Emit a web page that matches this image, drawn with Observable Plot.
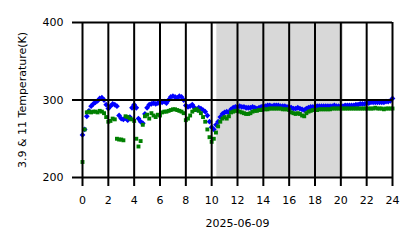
<!DOCTYPE html>
<html>
<head>
<meta charset="utf-8">
<script src="https://cdn.jsdelivr.net/npm/d3@7"></script>
<script src="https://cdn.jsdelivr.net/npm/@observablehq/plot@0.6"></script>
<style>
  html, body { margin: 0; padding: 0; background: #fff; }
  #chart svg { display: block; }
</style>
</head>
<body>
<div id="chart"></div>
<script>
// Sampling interval (minutes) of the series, starting at 00:00
const stepMinutes = 10;

// 3.9 µm brightness temperature (K), every 10 minutes from 00:00 to 24:00
const t39 = [
  255, 262, 279, 286, 292, 295,
  297, 299, 302, 303, 300, 294,
  289, 292, 295, 294, 292, 280,
  276, 275, 277, 274, 278, 290,
  294, 290, 276, 272, 270, 282,
  290, 294, 295, 296, 295, 296,
  297, 297, 298, 296, 300, 304,
  305, 304, 303, 305, 304, 300,
  293, 291, 292, 294, 290, 288,
  290, 289, 287, 285, 280, 272,
  265, 262, 268, 272, 278, 282,
  284, 285, 284, 288, 290, 291,
  291, 292, 291, 291, 290, 290,
  290, 291, 290, 289, 290, 291,
  292, 292, 293, 293, 292, 293,
  293, 293, 292, 292, 292, 291,
  291, 290, 289, 289, 290, 289,
  288, 287, 289, 290, 291, 291,
  291, 292, 292, 292, 292, 292,
  292, 292, 292, 293, 292, 292,
  292, 292, 293, 293, 293, 293,
  293, 294, 294, 295, 295, 295,
  296, 296, 297, 297, 297, 297,
  297, 297, 297, 298, 298, 299,
  302
];

// 11 µm brightness temperature (K), same times
const t11 = [
  220, 262, 284, 285, 284, 285,
  285, 284, 286, 285, 283, 278,
  272, 273, 276, 275, 250, 249,
  249, 248, 279, 278, 276, 275,
  273, 250, 240, 247, 268, 279,
  281, 276, 283, 280, 278, 281,
  280, 284, 285, 285, 286, 287,
  288, 288, 287, 286, 285, 283,
  274, 276, 280, 285, 287, 288,
  286, 283, 278, 272, 262, 252,
  246, 250, 258, 266, 272, 276,
  278, 276, 279, 284, 285, 286,
  286, 285, 284, 283, 282, 282,
  283, 285, 286, 286, 287, 287,
  288, 288, 288, 289, 289, 289,
  289, 289, 289, 288, 288, 288,
  287, 284, 283, 282, 283, 282,
  280, 279, 283, 285, 286, 287,
  287, 287, 288, 288, 288, 288,
  288, 288, 289, 289, 289, 289,
  289, 289, 289, 289, 289, 289,
  289, 289, 289, 289, 289, 289,
  289, 289, 289, 289, 290, 289,
  289, 289, 288, 289, 289, 289,
  289
];

// Shaded (night) interval in hours
const shade = [10.4, 20.2];
const xTicks = [0, 2, 4, 6, 8, 10, 12, 14, 16, 18, 20, 22, 24];
const yTicks = [200, 300, 400];
const yLabel = "3.9 & 11 Temperature(K)";
const xLabel = "2025-06-09";

const rows39 = t39.map((v, i) => ({hour: i * stepMinutes / 60, value: v}));
const rows11 = t11.map((v, i) => ({hour: i * stepMinutes / 60, value: v}));

const chart = Plot.plot({
  width: 418,
  height: 248,
  marginLeft: 82,
  marginRight: 26,
  marginTop: 22,
  marginBottom: 71,
  style: {fontFamily: "DejaVu Sans", fontSize: "11px", background: "#fff", color: "#000"},
  x: {domain: [0, 24]},
  y: {domain: [200, 400]},
  marks: [
    Plot.rect([shade], {x1: d => d[0], x2: d => d[1], y1: 200, y2: 400, fill: "#d8d8d8"}),
    Plot.dot(rows39, {x: "hour", y: "value", symbol: "square", r: 2.3, rotate: 45, fill: "blue", stroke: "none"}),
    Plot.dot(rows11, {x: "hour", y: "value", symbol: "square", r: 2.2, fill: "green", stroke: "none"}),
    Plot.ruleX(xTicks, {stroke: "#000", strokeWidth: 2}),
    Plot.ruleY(yTicks, {stroke: "#000", strokeWidth: 2}),
    Plot.axisX({ticks: xTicks, tickFormat: d => String(d), tickSize: 9, tickPadding: 10, stroke: "#000", strokeWidth: 2, label: null, fontSize: 11}),
    Plot.axisY({ticks: yTicks, tickFormat: d => String(d), tickSize: 10, tickPadding: 9, stroke: "#000", strokeWidth: 2, label: null, fontSize: 11}),
    Plot.text([yLabel], {frameAnchor: "left", dx: -60, rotate: -90, textAnchor: "middle", lineAnchor: "middle", fill: "#000", fontSize: 11}),
    Plot.text([xLabel], {frameAnchor: "bottom", dy: 46, textAnchor: "middle", lineAnchor: "middle", fill: "#000", fontSize: 11})
  ]
});
document.getElementById("chart").appendChild(chart);
</script>
</body>
</html>
